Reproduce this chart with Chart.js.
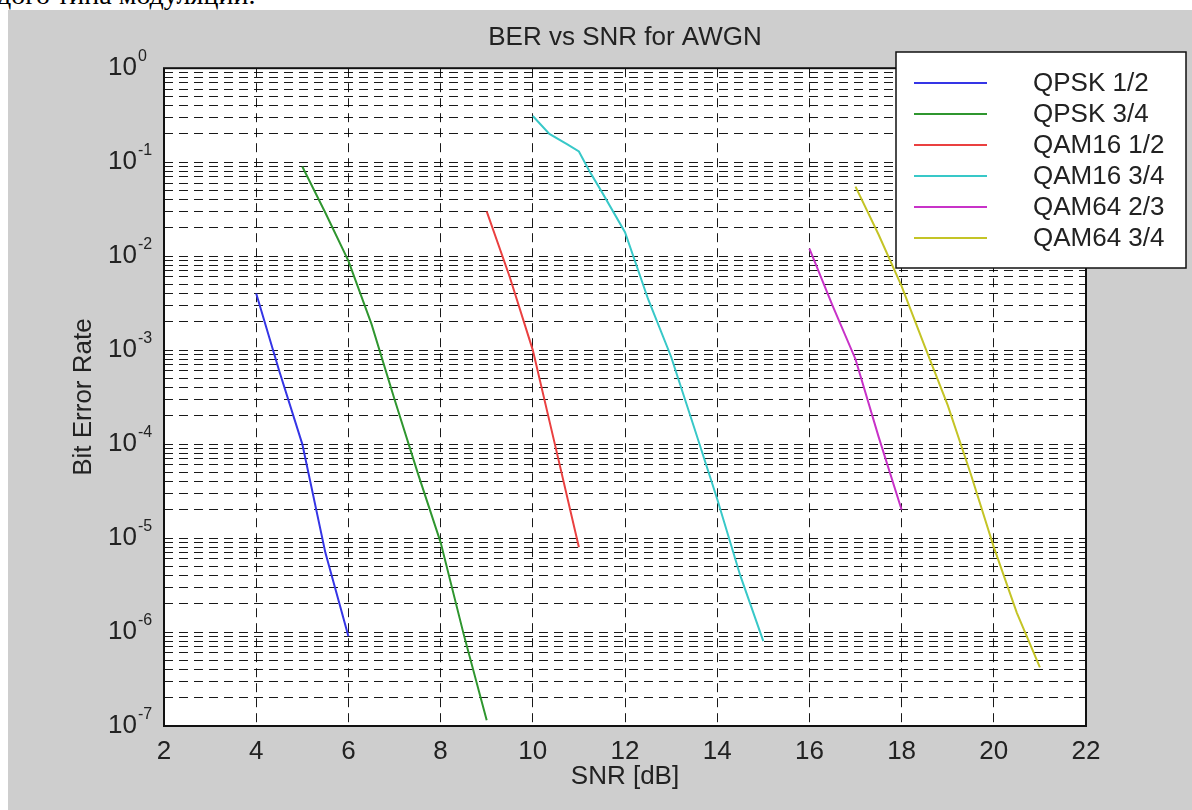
<!DOCTYPE html>
<html><head><meta charset="utf-8">
<script src="https://cdn.jsdelivr.net/npm/chart.js@4"></script>
<style>
html,body{margin:0;padding:0;background:#fff;width:1192px;height:810px;overflow:hidden;}
#cap{position:absolute;left:-3px;top:-19px;font:28px "Liberation Serif","DejaVu Serif",serif;color:#000;white-space:nowrap;line-height:28px;}
#frame{position:absolute;left:8px;top:10px;width:1184px;height:800px;background:#cecece;}
canvas{display:block;}
</style></head><body>
<div id="cap">дого типа модуляции.</div>
<div id="frame"><canvas id="c" width="1184" height="800"></canvas></div>
<script>
// ---- data ----
const seriesLabels = ['QPSK 1/2','QPSK 3/4','QAM16 1/2','QAM16 3/4','QAM64 2/3','QAM64 3/4'];
const seriesColors = ['#3535e6','#2f962f','#ea4040','#38c8c8','#c832c8','#c4c426'];

const qpsk12Snr = [4, 4.5, 5, 5.5, 6];
const qpsk12Ber = [4e-3, 6e-4, 1e-4, 7e-6, 9e-7];

const qpsk34Snr = [5, 5.5, 6, 6.5, 7, 7.5, 8, 8.5, 9];
const qpsk34Ber = [9e-2, 2.9e-2, 8.9e-3, 1.9e-3, 3e-4, 5e-5, 9e-6, 9.5e-7, 1.15e-7];

const qam16h12Snr = [9, 9.5, 10, 10.5, 11];
const qam16h12Ber = [3e-2, 6e-3, 1e-3, 9e-5, 8e-6];

const qam16h34Snr = [10, 10.36, 10.75, 11, 11.23, 11.5, 12, 12.5, 13, 13.5, 14, 14.5, 15];
const qam16h34Ber = [0.31, 0.2, 0.155, 0.13, 0.08, 4.8e-2, 1.8e-2, 3.5e-3, 8.5e-4, 1.5e-4, 2.6e-5, 4e-6, 8e-7];

const qam64h23Snr = [16, 16.5, 17, 17.5, 18];
const qam64h23Ber = [1.2e-2, 3e-3, 8e-4, 1.2e-4, 2e-5];

const qam64h34Snr = [17, 17.5, 18, 18.5, 19, 19.5, 20, 20.5, 21];
const qam64h34Ber = [5.5e-2, 1.7e-2, 4.8e-3, 1.1e-3, 2.6e-4, 4.8e-5, 8e-6, 1.6e-6, 4.2e-7];

const snrMin = 2, snrMax = 22, snrStep = 2;
const decadeExps = [-7, -6, -5, -4, -3, -2, -1, 0];
const minorMultipliers = [1, 2, 3, 4, 5, 6, 7, 8, 9];

const titleText = 'BER vs SNR for AWGN';
const xTitle = 'SNR [dB]';
const yTitle = 'Bit Error Rate';

// ---- build ----
const FONT = '"Liberation Sans", Arial, Helvetica, sans-serif';
const TXT = '#222';
const allSnr = [qpsk12Snr, qpsk34Snr, qam16h12Snr, qam16h34Snr, qam64h23Snr, qam64h34Snr];
const allBer = [qpsk12Ber, qpsk34Ber, qam16h12Ber, qam16h34Ber, qam64h23Ber, qam64h34Ber];

const datasets = seriesLabels.map((lab, i) => ({
  label: lab,
  data: allSnr[i].map((x, j) => ({x: x, y: allBer[i][j]})),
  borderColor: seriesColors[i],
  backgroundColor: seriesColors[i],
  borderWidth: 2,
  pointRadius: 0,
  tension: 0,
  fill: false
}));

const decorPlugin = {
  id: 'decor',
  beforeDraw(chart) {
    const {ctx, chartArea: a} = chart;
    ctx.save();
    ctx.fillStyle = '#ffffff';
    ctx.fillRect(a.left, a.top, a.right - a.left, a.bottom - a.top);
    ctx.restore();
  },
  afterDraw(chart) {
    const {ctx, chartArea: a} = chart;
    const ys = chart.scales.y;
    ctx.save();
    // axes box
    ctx.strokeStyle = '#111';
    ctx.lineWidth = 2;
    ctx.strokeRect(a.left, a.top, a.right - a.left, a.bottom - a.top);
    // y tick labels 10^k
    decadeExps.forEach(e => {
      const py = ys.getPixelForValue(Math.pow(10, e));
      ctx.fillStyle = TXT;
      ctx.font = '26px ' + FONT;
      ctx.textAlign = 'left';
      ctx.textBaseline = 'middle';
      ctx.fillText('10', 100, py);
      const w = ctx.measureText('10').width;
      ctx.font = '16px ' + FONT;
      ctx.textBaseline = 'alphabetic';
      ctx.fillText(String(e), 100 + w + 1, py - 7);
    });
    // legend
    const lx = 888, ly = 42, lw = 290, lh = 216;
    ctx.fillStyle = '#fff';
    ctx.fillRect(lx, ly, lw, lh);
    ctx.strokeStyle = '#111';
    ctx.lineWidth = 1.5;
    ctx.strokeRect(lx, ly, lw, lh);
    chart.data.datasets.forEach((ds, i) => {
      const ry = 73 + 31 * i;
      ctx.strokeStyle = ds.borderColor;
      ctx.lineWidth = 2;
      ctx.beginPath();
      ctx.moveTo(906, ry);
      ctx.lineTo(979, ry);
      ctx.stroke();
      ctx.fillStyle = TXT;
      ctx.font = '26px ' + FONT;
      ctx.textAlign = 'left';
      ctx.textBaseline = 'middle';
      ctx.fillText(ds.label, 1025, ry + 1);
    });
    ctx.restore();
  }
};

new Chart(document.getElementById('c'), {
  type: 'line',
  data: {datasets: datasets},
  options: {
    responsive: false,
    animation: false,
    devicePixelRatio: 1,
    layout: {padding: {top: 0, left: 0, right: 106, bottom: 0}},
    plugins: {
      legend: {display: false},
      tooltip: {enabled: false},
      title: {
        display: true,
        text: titleText,
        color: TXT,
        fullSize: false,
        font: {size: 26, family: FONT, weight: 'normal'},
        padding: {top: 12, bottom: 15}
      }
    },
    scales: {
      x: {
        type: 'linear',
        min: snrMin,
        max: snrMax,
        afterFit: s => { s.height = 84; },
        ticks: {stepSize: snrStep, autoSkip: false, color: TXT, padding: 10, maxRotation: 0,
                font: {size: 26, family: FONT}},
        grid: {color: 'rgba(0,0,0,0.9)', lineWidth: 1, drawTicks: false},
        border: {display: false, dash: [9, 6]},
        title: {display: true, text: xTitle, color: TXT, font: {size: 26, family: FONT},
                padding: {top: 0, bottom: 18}}
      },
      y: {
        type: 'logarithmic',
        min: Math.pow(10, decadeExps[0]),
        max: Math.pow(10, decadeExps[decadeExps.length - 1]),
        afterFit: s => { s.width = 156; },
        afterBuildTicks: s => {
          const t = [];
          decadeExps.forEach(e => {
            if (e < decadeExps[decadeExps.length - 1]) {
              minorMultipliers.forEach(m => t.push({value: m * Math.pow(10, e)}));
            } else {
              t.push({value: Math.pow(10, e)});
            }
          });
          s.ticks = t;
        },
        ticks: {display: false},
        grid: {color: 'rgba(0,0,0,0.9)', lineWidth: 1, drawTicks: false},
        border: {display: false, dash: [9, 6]},
        title: {display: true, text: yTitle, color: TXT, font: {size: 26, family: FONT},
                padding: {top: 60, bottom: 0}}
      }
    }
  },
  plugins: [decorPlugin]
});
</script>
</body></html>
